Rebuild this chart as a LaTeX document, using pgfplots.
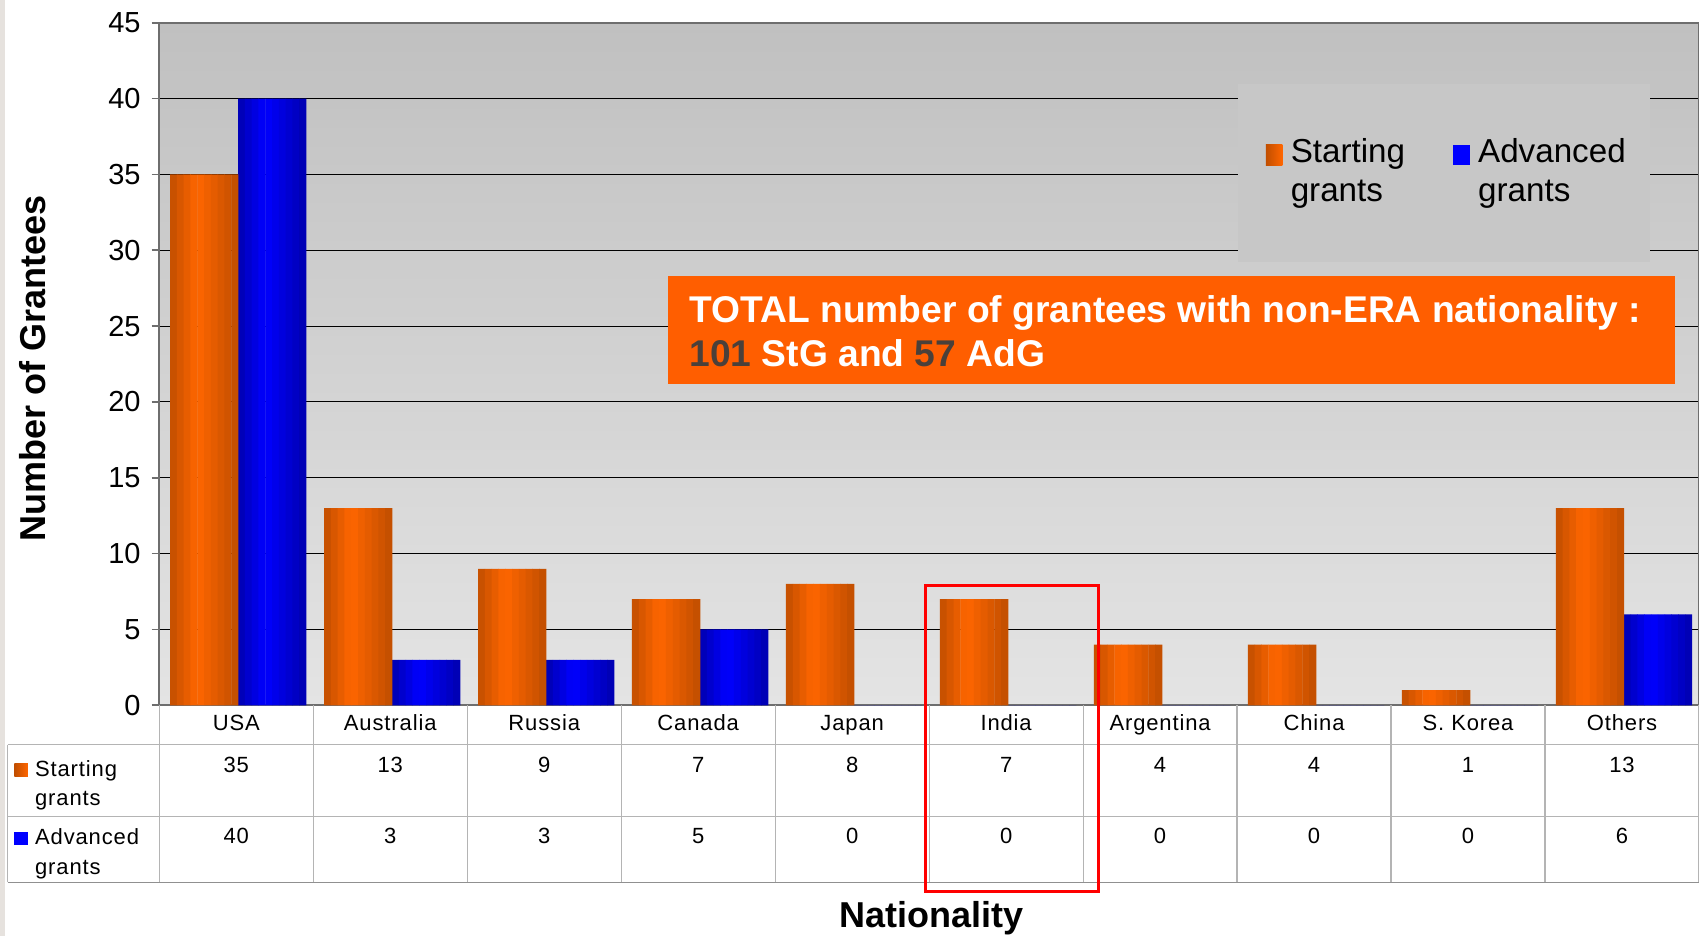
\documentclass[border=0pt]{standalone}
\usepackage{pgfplots}
\usepackage{pgfplotstable}
\pgfplotsset{compat=1.18}
\usepackage{fontspec}
\setmainfont{Liberation Sans}
\newfontfamily\tabfont{Liberation Sans}[LetterSpace=4]

\definecolor{bgtop}{HTML}{C0C0C0}
\definecolor{bgbot}{HTML}{E4E4E4}
\definecolor{orMid}{HTML}{FF6600}
\definecolor{orDark}{HTML}{C04E00}
\definecolor{blMid}{HTML}{0000FF}
\definecolor{blDark}{HTML}{0000B0}
\definecolor{boxor}{HTML}{FF5E00}
\definecolor{numdark}{HTML}{4A403A}
\definecolor{tabline}{HTML}{B4B4B4}
\definecolor{framegray}{HTML}{6E6E6E}
\definecolor{legbg}{HTML}{C7C7C7}

% strip colours: each bar is drawn as 10 thin strips, dark - bright - dark
\colorlet{orS0}{orMid!12!orDark}\colorlet{blS0}{blMid!12!blDark}
\colorlet{orS1}{orMid!38!orDark}\colorlet{blS1}{blMid!38!blDark}
\colorlet{orS2}{orMid!62!orDark}\colorlet{blS2}{blMid!62!blDark}
\colorlet{orS3}{orMid!88!orDark}\colorlet{blS3}{blMid!88!blDark}
\colorlet{orS4}{orMid!92!orDark}\colorlet{blS4}{blMid!92!blDark}
\colorlet{orS5}{orMid!75!orDark}\colorlet{blS5}{blMid!75!blDark}
\colorlet{orS6}{orMid!58!orDark}\colorlet{blS6}{blMid!58!blDark}
\colorlet{orS7}{orMid!42!orDark}\colorlet{blS7}{blMid!42!blDark}
\colorlet{orS8}{orMid!25!orDark}\colorlet{blS8}{blMid!25!blDark}
\colorlet{orS9}{orMid!8!orDark}\colorlet{blS9}{blMid!8!blDark}

% x: 0 USA, 1 Australia, 2 Russia, 3 Canada, 4 Japan, 5 India, 6 Argentina, 7 China, 8 S. Korea, 9 Others
\pgfplotstableread{
x stg adg
0 35 40
1 13 3
2 9 3
3 7 5
4 8 0
5 7 0
6 4 0
7 4 0
8 1 0
9 13 6
}\grants

\begin{document}
\begin{tikzpicture}
\path[use as bounding box] (-79.65pt,-115.3pt) rectangle (770pt,352.7pt);
\fill[color={rgb,255:red,230;green,226;blue,222}] (-79.65pt,-115.3pt) rectangle (-77pt,352.7pt);

\begin{axis}[
  at={(0pt,0pt)}, anchor=south west,
  scale only axis, width=770pt, height=341.3pt,
  xmin=-0.5, xmax=9.5, ymin=0, ymax=45,
  ybar=0pt,
  xtick=\empty,
  ytick={0,5,...,45}, ytick pos=left,
  tick align=outside, major tick length=3.8pt,
  ymajorgrids, grid style={black, line width=0.5pt},
  axis line style={framegray, line width=1pt},
  tick style={framegray, line width=0.8pt},
  axis background/.style={top color=bgtop, bottom color=bgbot},
  clip=false,
  /pgf/number format/assume math mode=true,
  yticklabel style={font=\fontsize{14.5}{16}\selectfont, xshift=-2pt},
  legend columns=2,
  legend style={at={(0.7005,0.8942)}, anchor=north west, draw=none, fill=none,
    font=\fontsize{16.6}{19.5}\selectfont, inner xsep=13.75pt, inner ysep=18pt,
    /tikz/every even column/.append style={column sep=22pt}},
  legend cell align=left,
]
% legend background hides the grid lines behind it
\fill[legbg] (rel axis cs:0.70045,0.64957) rectangle (rel axis cs:0.96799,0.91034);

\pgfplotsinvokeforeach{0,...,9}{
  \addplot[forget plot, draw=none, fill=orS#1, bar width=3.6pt, bar shift={-33pt+(#1+0.5)*3.4pt}]
    table[x=x, y=stg] {\grants};
  \addplot[forget plot, draw=none, fill=blS#1, bar width=3.6pt, bar shift={1pt+(#1+0.5)*3.4pt}]
    table[x=x, y=adg] {\grants};
}

\addlegendimage{legend image code/.code={\path[draw=none, left color=orDark, right color=orMid] (0pt,-7.3pt) rectangle (8.3pt,3pt);
      \path[draw=none, fill=none] (0pt,0pt) -- (10.5pt,0pt);}}
\addlegendentry{\begin{tabular}[t]{@{}l@{}}Starting\\grants\end{tabular}}
\addlegendimage{legend image code/.code={\path[draw=none, fill=blMid] (0pt,-7.3pt) rectangle (8.3pt,3pt);
      \path[draw=none, fill=none] (0pt,0pt) -- (10.5pt,0pt);}}
\addlegendentry{\begin{tabular}[t]{@{}l@{}}Advanced\\grants\end{tabular}}
\end{axis}

% total box
\fill[boxor] (254.5pt,160.55pt) rectangle (757.85pt,214.7pt);
\node[anchor=base west, inner sep=0pt, text=white, font=\fontsize{18.6}{22}\selectfont\bfseries]
  at (265pt,191.55pt) {TOTAL number of grantees with non-ERA nationality :};
\node[anchor=base west, inner sep=0pt, text=white, font=\fontsize{18.6}{22}\selectfont\bfseries]
  at (265pt,169.35pt) {\textcolor{numdark}{101} StG and \textcolor{numdark}{57} AdG};

% axis titles
\node[rotate=90, font=\fontsize{18}{20}\selectfont\bfseries] at (-63.4pt,168.5pt) {Number of Grantees};
\node[anchor=base, font=\fontsize{18}{20}\selectfont\bfseries] at (386.35pt,-111.3pt) {Nationality};

% data table
\draw[tabline, line width=0.6pt] (-75.85pt,-19.8pt) -- (770pt,-19.8pt);
\draw[tabline, line width=0.6pt] (-75.85pt,-55.55pt) -- (770pt,-55.55pt);
\draw[tabline!80!black, line width=0.8pt] (-75.85pt,-88.55pt) -- (770pt,-88.55pt);
\draw[tabline, line width=0.6pt] (-75.85pt,-19.8pt) -- (-75.85pt,-88.55pt);
\foreach \k in {0,...,10} \draw[tabline, line width=0.6pt] (\k*77pt,0pt) -- (\k*77pt,-88.55pt);

\path[left color=orDark, right color=orMid] (-72.5pt,-35.65pt) rectangle (-65.65pt,-28.95pt);
\path[fill=blMid] (-72.5pt,-69.8pt) rectangle (-65.65pt,-63.15pt);
\begin{scope}[every node/.style={anchor=base west, inner sep=0pt, font=\fontsize{11}{13}\tabfont}]
\node at (-62.3pt,-35.65pt) {Starting};
\node at (-62.3pt,-49.9pt) {grants};
\node at (-62.3pt,-69.8pt) {Advanced};
\node at (-62.3pt,-84.8pt) {grants};
\end{scope}
\begin{scope}[every node/.style={anchor=base, inner sep=0pt, font=\fontsize{11}{13}\tabfont}]
\foreach \i/\n/\s/\a in {0/USA/35/40, 1/Australia/13/3, 2/Russia/9/3, 3/Canada/7/5, 4/Japan/8/0,
    5/India/7/0, 6/Argentina/4/0, 7/China/4/0, 8/S. Korea/1/0, 9/Others/13/6} {
  \node at ({(\i+0.5)*77pt},-12.65pt) {\n};
  \node at ({(\i+0.5)*77pt},-33.45pt) {\s};
  \node at ({(\i+0.5)*77pt},-68.95pt) {\a};
}
\end{scope}

% highlight of India
\draw[red, line width=1.5pt] (383.1pt,59.7pt) rectangle (469.75pt,-93.3pt);
\end{tikzpicture}
\end{document}
